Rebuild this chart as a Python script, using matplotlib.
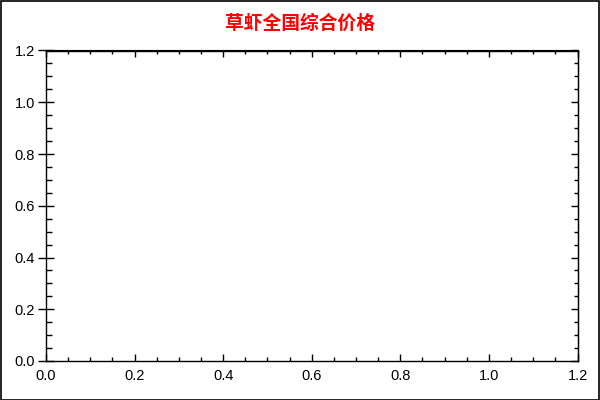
import matplotlib
matplotlib.use("Agg")
import matplotlib.pyplot as plt
from matplotlib.ticker import MultipleLocator
from matplotlib.patches import Rectangle

title = "草虾全国综合价格"
x_limits = [0.0, 1.2]
y_limits = [0.0, 1.2]
major_step = 0.2
minor_step = 0.05

plt.rcParams['font.family'] = ['Liberation Sans', 'Noto Sans CJK SC', 'DejaVu Sans']

fig = plt.figure(figsize=(6, 4), dpi=100)
ax = fig.add_axes([46/600, 1 - 361/400, (577.5 - 46)/600, (361 - 50.5)/400])

ax.set_xlim(*x_limits)
ax.set_ylim(*y_limits)
ax.xaxis.set_major_locator(MultipleLocator(major_step))
ax.yaxis.set_major_locator(MultipleLocator(major_step))
ax.xaxis.set_minor_locator(MultipleLocator(minor_step))
ax.yaxis.set_minor_locator(MultipleLocator(minor_step))
ax.xaxis.set_major_formatter(matplotlib.ticker.FormatStrFormatter('%.1f'))
ax.yaxis.set_major_formatter(matplotlib.ticker.FormatStrFormatter('%.1f'))

for s in ax.spines.values():
    s.set_linewidth(1.0)
    s.set_color('black')

ax.tick_params(axis='y', which='major', direction='inout', length=12, width=1,
               left=True, right=False, labelsize=10.5, pad=2)
ax.tick_params(axis='y', which='minor', direction='in', length=4, width=1,
               left=True, right=False)
ax.tick_params(axis='x', which='major', direction='in', length=5, width=1,
               bottom=True, top=False, labelsize=10.5, pad=6)
ax.tick_params(axis='x', which='minor', direction='in', length=3, width=1,
               bottom=True, top=False)

# secondary ticks on top and right (inward)
axt = ax.secondary_xaxis('top')
axt.xaxis.set_major_locator(MultipleLocator(major_step))
axt.xaxis.set_minor_locator(MultipleLocator(minor_step))
axt.tick_params(which='major', direction='in', length=5, width=1, labeltop=False)
axt.tick_params(which='minor', direction='in', length=3, width=1)
axr = ax.secondary_yaxis('right')
axr.yaxis.set_major_locator(MultipleLocator(major_step))
axr.yaxis.set_minor_locator(MultipleLocator(minor_step))
axr.tick_params(which='major', direction='in', length=5, width=1, labelright=False)
axr.tick_params(which='minor', direction='in', length=3, width=1)

fig.text(0.5, 1 - 23/400, title, ha='center', va='center', color='red',
         fontsize=13.5, fontweight='bold',
         family=['Noto Sans CJK SC', 'DejaVu Sans'])

fig.patches.append(Rectangle((0.5/600, 0.5/400), 598.5/600, 398.5/400,
                             transform=fig.transFigure, fill=False,
                             edgecolor='black', linewidth=1.2))

fig.savefig("out.png", dpi=100)
